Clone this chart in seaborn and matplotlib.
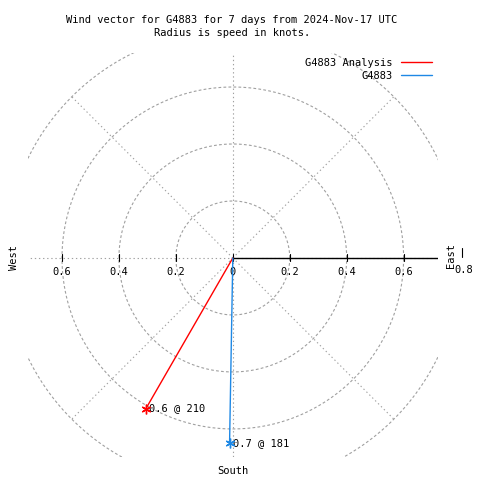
import numpy as np
import pandas as pd
import seaborn as sns
import matplotlib
matplotlib.use('Agg')
import matplotlib.pyplot as plt

# data
series = ['G4883 Analysis', 'G4883']
speeds = [0.61, 0.65]          # knots
directions = [210, 181]        # degrees, clockwise from north
labels = ['0.6 @ 210', '0.7 @ 181']
colors = ['#ff0000', '#1e88e5']
rings = [0.2, 0.4, 0.6, 0.8]
tick_vals = [-0.6, -0.4, -0.2, 0, 0.2, 0.4, 0.6]
tick_text = ['0.6', '0.4', '0.2', '0', '0.2', '0.4', '0.6']

sns.set_style('white')
plt.rcParams['font.family'] = ['DejaVu Sans Mono']
plt.rcParams['text.color'] = 'black'
fs = 7.5

# each vector runs from the origin to its tip
rows = []
for name, s, d in zip(series, speeds, directions):
    rad = np.deg2rad(d)
    rows.append({'series': name, 'step': 0, 'x': 0.0, 'y': 0.0})
    rows.append({'series': name, 'step': 1, 'x': s * np.sin(rad), 'y': s * np.cos(rad)})
df = pd.DataFrame(rows)

fig = plt.figure(figsize=(4.8, 4.8), dpi=100)
ax = fig.add_axes([0.058, 0.047, 0.854, 0.843])
xlim = (-0.72, 0.72)
ylim = (-0.70, 0.72)

# polar grid
grid_c = '#a0a0a0'
t = np.linspace(0, 2 * np.pi, 400)
for r in rings:
    ax.plot(r * np.cos(t), r * np.sin(t), color=grid_c, lw=0.8, ls=(0, (2.5, 2)), zorder=1)
for a in range(0, 360, 45):
    ra = np.deg2rad(a)
    ax.plot([0, 0.8 * np.cos(ra)], [0, 0.8 * np.sin(ra)], color=grid_c, lw=0.8,
            ls=(0, (1.2, 2.5)), zorder=1)

# east axis with ticks
ax.plot([0, xlim[1]], [0, 0], color='black', lw=1, zorder=2)
for v, txt in zip(tick_vals, tick_text):
    ax.plot([v, v], [-0.012, 0.014], color='black', lw=0.8, zorder=2)
    ax.text(v, -0.032, txt, ha='center', va='top', fontsize=fs)

sns.lineplot(data=df, x='x', y='y', hue='series', units='series', estimator=None,
             sort=False, palette=dict(zip(series, colors)), lw=1, ax=ax, zorder=3)
tips = df[df['step'] == 1]
for (_, row), c, lab in zip(tips.iterrows(), colors, labels):
    ax.plot(row['x'], row['y'], marker=(6, 2, 0), ms=7, color=c, mew=1, zorder=4)
    ax.text(row['x'] + 0.012, row['y'], lab, ha='left', va='center', fontsize=fs)

ax.set_xlim(*xlim)
ax.set_ylim(*ylim)
ax.axis('off')

leg = ax.legend(loc='upper right', frameon=False, markerfirst=False, fontsize=fs,
                handlelength=3, labelspacing=0.25, bbox_to_anchor=(1.01, 1.01))
for line in leg.get_lines():
    line.set_linewidth(1)
for txt in leg.get_texts():
    txt.set_color('black')

# compass / frame labels
fig.text(14 / 480, 1 - 258 / 480, 'West', rotation=90, ha='center', va='center', fontsize=fs)
fig.text(451 / 480, 1 - 256 / 480, 'East', rotation=90, ha='center', va='center', fontsize=fs)
fig.text(464 / 480, 1 - 270 / 480, '0.8', ha='center', va='center', fontsize=fs)
fig.add_artist(plt.Line2D([462 / 480, 462 / 480], [1 - 248 / 480, 1 - 257 / 480],
                          color='black', lw=0.8))
fig.text(233 / 480, 1 - 471 / 480, 'South', ha='center', va='center', fontsize=fs)
fig.text(232 / 480, 1 - 20 / 480, 'Wind vector for G4883 for 7 days from 2024-Nov-17 UTC',
         ha='center', va='center', fontsize=fs)
fig.text(232 / 480, 1 - 33 / 480, 'Radius is speed in knots.',
         ha='center', va='center', fontsize=fs)

fig.savefig('out.png', dpi=100, facecolor='white')
